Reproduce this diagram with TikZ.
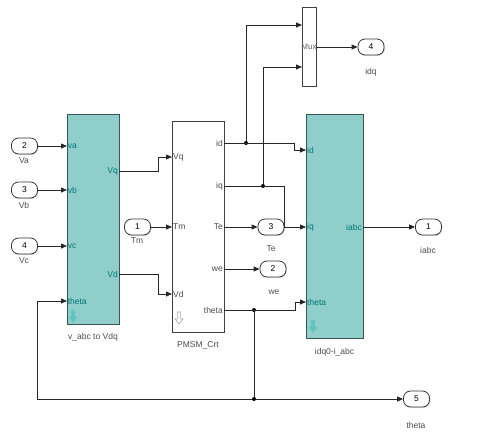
\documentclass[tikz,border=0pt]{standalone}
\usepackage{fontspec}
\setmainfont{Liberation Sans}
\usetikzlibrary{arrows.meta,shadows}

\definecolor{blockfill}{RGB}{143,206,203}
\definecolor{blockedge}{RGB}{55,85,85}
\definecolor{porttext}{RGB}{0,118,118}
\definecolor{iconfill}{RGB}{95,196,190}

\tikzset{
  downarrow/.pic={\path[pic actions] (-1.6,-7) -- (1.6,-7) -- (1.6,0) -- (4,0) -- (0,5) -- (-4,0) -- (-1.6,0) -- cycle;}
}

\begin{document}
\begin{tikzpicture}[x=1pt, y=-1pt,
    font=\fontsize{8.5}{10}\selectfont,
    wire/.style={line width=0.8pt, black!85},
    sig/.style={wire, -{Triangle[length=6pt,width=5pt]}},
    subsys/.style={draw=blockedge, fill=blockfill, line width=0.9pt, inner sep=0pt,
      drop shadow={shadow xshift=1pt, shadow yshift=-1pt, opacity=0.25}},
    plainbox/.style={draw=black!75, fill=white, line width=0.8pt, inner sep=0pt,
      drop shadow={shadow xshift=1pt, shadow yshift=-1pt, opacity=0.25}},
    port/.style={draw=black!80, fill=white, rounded corners=7pt, line width=0.8pt,
      minimum width=26, minimum height=16, inner sep=0pt,
      drop shadow={shadow xshift=1pt, shadow yshift=-1pt, opacity=0.25}},
    lbl/.style={text=black!70},
    pin/.style={text=porttext, inner sep=1pt},
    dot/.style={circle, fill=black, inner sep=0pt, minimum size=4}]
  \useasboundingbox (0,0) rectangle (480,437);

  % Blocks
  \node[subsys, minimum width=52, minimum height=210] (vabc) at (93,219) {};
  \node[plainbox, minimum width=52, minimum height=211] (pmsm) at (198,226.5) {};
  \node[subsys, minimum width=57, minimum height=224] (idqabc) at (334.5,226) {};
  \node[plainbox, minimum width=14, minimum height=79] (mux) at (309,46.5) {};
  \node[text=black!60, font=\fontsize{8}{9}\selectfont, inner sep=0pt] (muxtxt) at (309,47) {Mux};

  \node[lbl] (nvabc) at (93,337) {v\_abc to Vdq};
  \node[lbl] (npmsm) at (198,345) {PMSM\_Crt};
  \node[lbl] (nidq) at (334.5,352) {idq0-i\_abc};

  % Block icons
  \pic[fill=iconfill, draw=iconfill] at (73,317) {downarrow};
  \pic[fill=iconfill, draw=iconfill] at (313,327) {downarrow};
  \pic[draw=black!35, fill=white, line width=0.6pt] at (179,319) {downarrow};

  % Port positions
  \coordinate (va) at (67,146);
  \coordinate (vb) at (67,190);
  \coordinate (vc) at (67,246);
  \coordinate (vth) at (67,301);
  \coordinate (vq) at (119,171);
  \coordinate (vd) at (119,274);
  \coordinate (pvq) at (172,157);
  \coordinate (ptm) at (172,227);
  \coordinate (pvd) at (172,294);
  \coordinate (pid) at (224,143);
  \coordinate (piq) at (224,186);
  \coordinate (pte) at (224,227);
  \coordinate (pwe) at (224,269);
  \coordinate (pth) at (224,310);
  \coordinate (rid) at (306,150);
  \coordinate (riq) at (306,227);
  \coordinate (rth) at (306,302);
  \coordinate (iabc) at (363,227);
  \coordinate (mux1) at (302,25);
  \coordinate (mux2) at (302,67);
  \coordinate (muxo) at (316,47);

  % Pin names
  \node[pin, anchor=west] (tva) at (vabc.west |- va) {va};
  \node[pin, anchor=west] (tvb) at (vabc.west |- vb) {vb};
  \node[pin, anchor=west] (tvc) at (vabc.west |- vc) {vc};
  \node[pin, anchor=west] (tvth) at (vabc.west |- vth) {theta};
  \node[pin, anchor=east] (tvq) at (vq) {Vq};
  \node[pin, anchor=east] (tvd) at (vd) {Vd};
  \node[lbl, inner sep=1pt, anchor=west] (tpvq) at (pvq) {Vq};
  \node[lbl, inner sep=1pt, anchor=west] (tptm) at (ptm) {Tm};
  \node[lbl, inner sep=1pt, anchor=west] (tpvd) at (pvd) {Vd};
  \node[lbl, inner sep=1pt, anchor=east] (tpid) at (pid) {id};
  \node[lbl, inner sep=1pt, anchor=east] (tpiq) at (piq) {iq};
  \node[lbl, inner sep=1pt, anchor=east] (tpte) at (pte) {Te};
  \node[lbl, inner sep=1pt, anchor=east] (tpwe) at (pwe) {we};
  \node[lbl, inner sep=1pt, anchor=east] (tpth) at (pth) {theta};
  \node[pin, anchor=west] (trid) at (rid) {id};
  \node[pin, anchor=west] (triq) at (riq) {iq};
  \node[pin, anchor=west] (trth) at (rth) {theta};
  \node[pin, anchor=east] (tiabc) at (iabc) {iabc};

  % Inports and outports
  \node[port] (in2) at (24.5,146) {2};
  \node[port] (in3) at (24.5,190) {3};
  \node[port] (in4) at (24.5,246) {4};
  \node[port] (in1) at (137.5,227) {1};
  \node[port] (out3) at (271,227) {3};
  \node[port] (out2) at (273,269) {2};
  \node[port] (out4) at (371,47) {4};
  \node[port] (out1) at (428.5,227) {1};
  \node[port] (out5) at (416.5,399) {5};

  \node[lbl] (nva) at (24,161) {Va};
  \node[lbl] (nvb) at (24,205) {Vb};
  \node[lbl] (nvc) at (24,261) {Vc};
  \node[lbl] (ntm) at (137,241) {Tm};
  \node[lbl] (nte) at (271,249) {Te};
  \node[lbl] (nwe) at (274,292) {we};
  \node[lbl] (nidqo) at (371,72) {idq};
  \node[lbl] (niabc) at (428,250) {iabc};
  \node[lbl] (ntheta) at (416,425) {theta};

  % Junctions
  \node[dot] (j1) at (246,143) {};
  \node[dot] (j2) at (263,186) {};
  \node[dot] (j3) at (254,310) {};
  \node[dot] (j4) at (254,399) {};

  % Edges
  \draw[sig] (in2) -- (va);
  \draw[sig] (in3) -- (vb);
  \draw[sig] (in4) -- (vc);
  \draw[sig] (vq) -- ++(39,0) |- (pvq);
  \draw[sig] (in1) -- (ptm);
  \draw[sig] (vd) -- ++(39,0) |- (pvd);
  \draw[sig] (pid) -- ++(70,0) |- (rid);
  \draw[sig] (piq) -- ++(60,0) |- (riq);
  \draw[sig] (pth) -- ++(71,0) |- (rth);
  \draw[sig] (pte) -- (out3);
  \draw[sig] (pwe) -- (out2);
  \draw[sig] (j1) |- (mux1);
  \draw[sig] (j2) |- (mux2);
  \draw[sig] (muxo) -- (out4);
  \draw[sig] (iabc) -- (out1);

  % Angle feedback
  \draw[wire] (j3) -- (j4);
  \draw[sig] (j4) -- ++(-217,0) |- (vth);
  \draw[sig] (j4) -- (out5);
\end{tikzpicture}
\end{document}
